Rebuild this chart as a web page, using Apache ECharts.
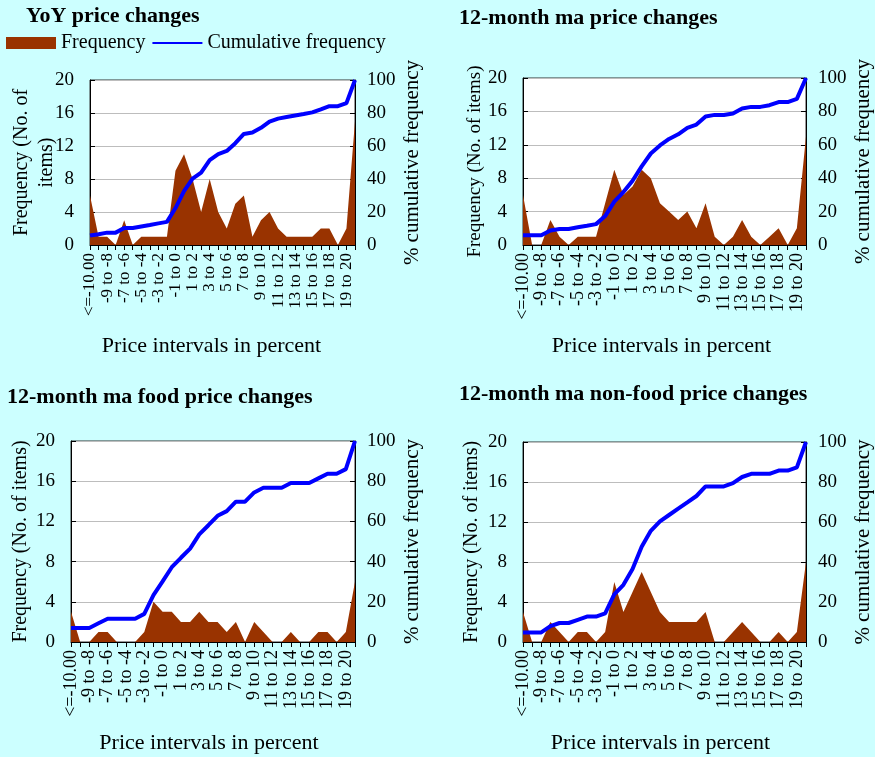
<!DOCTYPE html>
<html>
<head>
<meta charset="utf-8">
<script src="https://cdn.jsdelivr.net/npm/echarts@6/dist/echarts.min.js"></script>
<style>
  html, body { margin: 0; padding: 0; background: #CCFFFF; }
  #chart { width: 875px; height: 757px; }
</style>
</head>
<body>
<div id="chart"></div>
<script>
// Categories (price intervals in percent)
const categories = ['<=-10.00', '-10 to -9', '-9 to -8', '-8 to -7', '-7 to -6', '-6 to -5', '-5 to -4', '-4 to -3',
  '-3 to -2', '-2 to -1', '-1 to 0', '0 to 1', '1 to 2', '2 to 3', '3 to 4', '4 to 5', '5 to 6', '6 to 7',
  '7 to 8', '8 to 9', '9 to 10', '10 to 11', '11 to 12', '12 to 13', '13 to 14', '14 to 15', '15 to 16',
  '16 to 17', '17 to 18', '18 to 19', '19 to 20', '>20.00'];

const panelTitles = ['YoY price changes', '12-month ma price changes',
  '12-month ma food price changes', '12-month ma non-food price changes'];

// Frequencies (No. of items)
const freqYoY     = [6,1,1,0,3,0,1,1,1,1,9,11,8,4,8,4,2,5,6,1,3,4,2,1,1,1,1,2,2,0,2,15];
const freqMa      = [6,0,0,3,1,0,1,1,1,5,9,6,7,9,8,5,4,3,4,2,5,1,0,1,3,1,0,1,2,0,2,13];
const freqFood    = [3,0,0,1,1,0,0,0,1,4,3,3,2,2,3,2,2,1,2,0,2,1,0,0,1,0,0,1,1,0,1,6];
const freqNonFood = [3,0,0,2,1,0,1,1,0,1,6,3,5,7,5,3,2,2,2,2,3,0,0,1,2,1,0,0,1,0,1,8];

// % cumulative frequency
const cumYoY     = [5.7,6.5,7.5,7.5,10.3,10.3,11.2,12.1,13.1,14.0,22.4,32.7,40.2,43.9,51.4,55.1,57.0,61.7,67.3,68.2,71.0,74.8,76.6,77.6,78.5,79.4,80.4,82.2,84.1,84.1,86.0,100];
const cumMa      = [5.8,5.8,5.8,8.7,9.6,9.6,10.6,11.5,12.5,17.3,26.0,31.7,38.5,47.1,54.8,59.6,63.5,66.3,70.2,72.1,76.9,77.9,77.9,78.8,81.7,82.7,82.7,83.7,85.6,85.6,87.5,100];
const cumFood    = [7.0,7.0,7.0,9.3,11.6,11.6,11.6,11.6,14.0,23.3,30.2,37.2,41.9,46.5,53.5,58.1,62.8,65.1,69.8,69.8,74.4,76.7,76.7,76.7,79.1,79.1,79.1,81.4,83.7,83.7,86.0,100];
const cumNonFood = [4.8,4.8,4.8,7.9,9.5,9.5,11.1,12.7,12.7,14.3,23.8,28.6,36.5,47.6,55.6,60.3,63.5,66.7,69.8,73.0,77.8,77.8,77.8,79.4,82.5,84.1,84.1,84.1,85.7,85.7,87.3,100];

const leftTicks = [0, 4, 8, 12, 16, 20];
const rightTicks = [0, 20, 40, 60, 80, 100];

const freqs = [freqYoY, freqMa, freqFood, freqNonFood];
const cums = [cumYoY, cumMa, cumFood, cumNonFood];

const FONT = '"Liberation Serif", "Times New Roman", serif';

const grids = [
  { left: 90,  top: 80,  width: 265, height: 165 },
  { left: 523, top: 78,  width: 285, height: 167 },
  { left: 71,  top: 441, width: 284, height: 201 },
  { left: 523, top: 442, width: 284, height: 200 }
];
const titlePos = [
  { left: 26, top: 5 }, { left: 459, top: 7 }, { left: 7, top: 386 }, { left: 459, top: 383 }
];
const leftNames = ['Frequency (No. of\nitems)', 'Frequency (No. of items)', 'Frequency (No. of items)', 'Frequency (No. of items)'];
const leftNameGaps = [31, 35, 38, 39];
const nameSizes = [20, 19, 20, 20];
const xNameShift = [22, 6, 8, 8];
const xLabelSizes = [17, 18, 18, 18];

const textBase = { fontFamily: FONT, color: '#000', fontSize: 18 };

const option = {
  backgroundColor: '#CCFFFF',
  animation: false,
  title: panelTitles.map((t, i) => ({
    text: t, left: titlePos[i].left, top: titlePos[i].top, padding: 0,
    textStyle: { fontFamily: FONT, fontWeight: 'bold', fontSize: 22, color: '#000' }
  })),
  legend: {
    left: 6, top: 33, padding: 0,
    itemWidth: 50, itemHeight: 12, itemGap: 6,
    textStyle: { fontFamily: FONT, fontSize: 20, color: '#000' },
    data: [
      { name: 'Frequency', icon: 'rect' },
      { name: 'Cumulative frequency', itemStyle: { opacity: 0 } }
    ]
  },
  grid: grids.map(g => Object.assign({ show: true, backgroundColor: '#fff', borderColor: '#333', borderWidth: 1 }, g)),
  xAxis: grids.map((g, i) => ({
    type: 'category', gridIndex: i, data: categories, boundaryGap: false,
    axisLine: { lineStyle: { color: '#000', width: 1 } },
    axisTick: { show: true, interval: 0, length: 5, lineStyle: { color: '#000' } },
    axisLabel: Object.assign({
      interval: (idx) => idx % 2 === 0 && idx < categories.length - 1,
      showMinLabel: true, showMaxLabel: true, hideOverlap: false,
      rotate: 90, margin: 8
    }, textBase, { fontSize: xLabelSizes[i] }),
    splitLine: { show: false },
    name: 'Price intervals in percent', nameLocation: 'middle', nameGap: 90,
    nameTextStyle: Object.assign({ padding: [0, xNameShift[i], 0, 0] }, textBase, { fontSize: 22 })
  })),
  yAxis: [].concat(...grids.map((g, i) => [
    {
      type: 'value', gridIndex: i, min: leftTicks[0], max: leftTicks[leftTicks.length - 1], interval: 4,
      position: 'left',
      axisLine: { show: true, lineStyle: { color: '#000' } },
      axisTick: { show: true, inside: true, length: 5, lineStyle: { color: '#000' } },
      axisLabel: Object.assign({ margin: 16 }, textBase, { fontSize: 19 }),
      splitLine: { show: true, lineStyle: { color: '#bdbdbd', width: 1 } },
      name: leftNames[i], nameLocation: 'middle', nameGap: leftNameGaps[i], nameMoveOverlap: false,
      nameTextStyle: Object.assign({ lineHeight: 25 }, textBase, { fontSize: nameSizes[i] })
    },
    {
      type: 'value', gridIndex: i, min: rightTicks[0], max: rightTicks[rightTicks.length - 1], interval: 20,
      position: 'right',
      axisLine: { show: true, lineStyle: { color: '#000' } },
      axisTick: { show: true, inside: true, length: 5, lineStyle: { color: '#000' } },
      axisLabel: Object.assign({ margin: 12 }, textBase, { fontSize: 19 }),
      splitLine: { show: false },
      name: '% cumulative frequency', nameLocation: 'middle', nameGap: 47,
      nameTextStyle: Object.assign({}, textBase, { fontSize: 21 })
    }
  ])),
  series: [].concat(...grids.map((g, i) => [
    {
      name: 'Frequency', type: 'line', xAxisIndex: i, yAxisIndex: 2 * i,
      data: freqs[i], symbol: 'none', showSymbol: false,
      lineStyle: { width: 0, color: '#993300' }, itemStyle: { color: '#993300' },
      areaStyle: { color: '#993300', opacity: 1 }, z: 2
    },
    {
      name: 'Cumulative frequency', type: 'line', xAxisIndex: i, yAxisIndex: 2 * i + 1,
      data: cums[i], symbol: 'none', showSymbol: false,
      lineStyle: { width: 4, color: '#0000FF' }, itemStyle: { color: '#0000FF' }, z: 3
    }
  ]))
};

const chart = echarts.init(document.getElementById('chart'), null, { renderer: 'canvas' });
chart.setOption(option);
</script>
</body>
</html>
